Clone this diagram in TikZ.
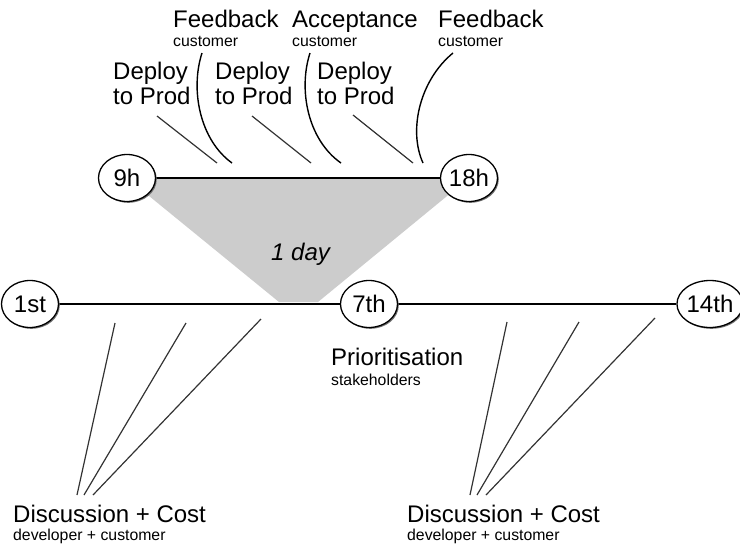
\documentclass[tikz,border=0pt]{standalone}
\usepackage{fontspec}
\setmainfont{Liberation Sans}
\usetikzlibrary{shapes.geometric,shadows,backgrounds}
\tikzset{
  milestone/.style={ellipse, draw=black, line width=1.3pt, fill=white,
    minimum width=57pt, minimum height=47pt, inner sep=0pt,
    font=\fontsize{24}{26}\selectfont,
    drop shadow={shadow xshift=1.3pt, shadow yshift=-1.3pt, fill=black!55, opacity=1}},
  bigtext/.style={anchor=base west, inner sep=0pt, font=\fontsize{24}{25}\selectfont},
  blocktext/.style={anchor=north west, inner sep=0pt, align=left, font=\fontsize{24}{25}\selectfont},
  smalltext/.style={anchor=base west, inner sep=0pt, font=\fontsize{15.8}{17}\selectfont},
  timeline/.style={line width=2pt, draw=black},
  tick/.style={line width=1.2pt, draw=black!80},
  curvy/.style={line width=1.4pt, draw=black}
}
\begin{document}
\begin{tikzpicture}[x=1pt,y=-1pt]
\useasboundingbox (0,0) rectangle (740,549);
% milestones
\node[milestone] (h9) at (127,178) {9h};
\node[milestone] (h18) at (469,178) {18h};
\node[milestone] (d1) at (30,304) {1st};
\node[milestone] (d7) at (369,304) {7th};
\node[milestone] (d14) at (710,304) {14th};
% texts
\node[bigtext] (fb1) at (173,27) {Feedback};
\node[smalltext] (fb1s) at (173,46) {customer};
\node[bigtext] (acc) at (292,27) {Acceptance};
\node[smalltext] (accs) at (292,46) {customer};
\node[bigtext] (fb2) at (438,27) {Feedback};
\node[smalltext] (fb2s) at (438,46) {customer};
\node[blocktext] (dp1) at (113,62) {Deploy\\to Prod};
\node[blocktext] (dp2) at (215,62) {Deploy\\to Prod};
\node[blocktext] (dp3) at (317,62) {Deploy\\to Prod};
\node[bigtext, font=\fontsize{24}{25}\selectfont\itshape] (day) at (271,260) {1 day};
\node[bigtext] (prio) at (331,365) {Prioritisation};
\node[smalltext] (prios) at (331,385) {stakeholders};
\node[bigtext] (dc1) at (13,522) {Discussion + Cost};
\node[smalltext] (dc1s) at (13,540) {developer + customer};
\node[bigtext] (dc2) at (407,522) {Discussion + Cost};
\node[smalltext] (dc2s) at (407,540) {developer + customer};
% coordinates
\coordinate (trL) at (279,302);
\coordinate (trR) at (318,302);
\coordinate (a1) at (157,116); \coordinate (b1) at (217,163);
\coordinate (a2) at (252,116); \coordinate (b2) at (311,163);
\coordinate (a3) at (353,115); \coordinate (b3) at (413,163);
\coordinate (c1s) at (202,53); \coordinate (c1e) at (232,163);
\coordinate (c2s) at (310,53); \coordinate (c2e) at (341,163);
\coordinate (c3s) at (453,53); \coordinate (c3e) at (423,163);
\coordinate (l1t) at (115,323); \coordinate (l1b) at (77,495);
\coordinate (l2t) at (186,323); \coordinate (l2b) at (84,495);
\coordinate (l3t) at (261,319); \coordinate (l3b) at (93,495);
\coordinate (r1t) at (507,322); \coordinate (r1b) at (470,495);
\coordinate (r2t) at (579,322); \coordinate (r2b) at (477,495);
\coordinate (r3t) at (655,318); \coordinate (r3b) at (486,495);
\begin{pgfonlayer}{background}
\fill[black!20] (h9.center) -- (h18.center) -- (trR) -- (trL) -- cycle;
\draw[timeline] (h9) -- (h18);
\draw[timeline] (d1) -- (d7);
\draw[timeline] (d7) -- (d14);
\end{pgfonlayer}
% deploy ticks
\draw[tick] (a1) -- (b1);
\draw[tick] (a2) -- (b2);
\draw[tick] (a3) -- (b3);
% feedback curves
\draw[curvy] (c1s) .. controls (190,90) and (200,140) .. (c1e);
\draw[curvy] (c2s) .. controls (298,90) and (308,140) .. (c2e);
\draw[curvy] (c3s) .. controls (420,80) and (408,130) .. (c3e);
% discussion lines
\draw[tick] (l1t) -- (l1b);
\draw[tick] (l2t) -- (l2b);
\draw[tick] (l3t) -- (l3b);
\draw[tick] (r1t) -- (r1b);
\draw[tick] (r2t) -- (r2b);
\draw[tick] (r3t) -- (r3b);
\end{tikzpicture}
\end{document}
